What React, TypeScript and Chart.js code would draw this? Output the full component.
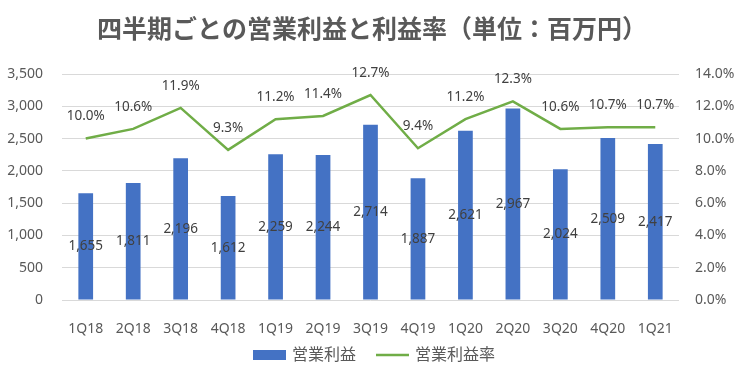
import React, { useEffect, useRef } from "react";
import { Chart, registerables } from "chart.js";

Chart.register(...registerables);

const categories = ["1Q18", "2Q18", "3Q18", "4Q18", "1Q19", "2Q19", "3Q19", "4Q19", "1Q20", "2Q20", "3Q20", "4Q20", "1Q21"];
const operatingProfit = [1655, 1811, 2196, 1612, 2259, 2244, 2714, 1887, 2621, 2967, 2024, 2509, 2417];
const profitMargin = [10.0, 10.6, 11.9, 9.3, 11.2, 11.4, 12.7, 9.4, 11.2, 12.3, 10.6, 10.7, 10.7];
const seriesNames = ["営業利益", "営業利益率"];
const titleText = "四半期ごとの営業利益と利益率（単位：百万円）";

const BLUE = "#4472C4";
const GREEN = "#70AD47";
const TEXT = "#595959";
const LABEL = "#404040";
const GRID = "#D9D9D9";
const FONT = "'Noto Sans', 'Noto Sans CJK JP', sans-serif";

export default function App() {
  const ref = useRef<HTMLCanvasElement | null>(null);

  useEffect(() => {
    document.body.style.margin = "0";
    const canvas = ref.current;
    if (!canvas) return;

    const labelPlugin = {
      id: "valueLabels",
      afterDatasetsDraw(chart: any) {
        const ctx = chart.ctx;
        ctx.save();
        ctx.font = `13.5px ${FONT}`;
        ctx.fillStyle = LABEL;
        ctx.textAlign = "center";
        ctx.textBaseline = "middle";
        const barMeta = chart.getDatasetMeta(0);
        barMeta.data.forEach((el: any, i: number) => {
          const p = el.getProps(["x", "y", "base"], true);
          ctx.fillText(operatingProfit[i].toLocaleString("en-US"), p.x, (p.y + p.base) / 2);
        });
        const lineMeta = chart.getDatasetMeta(1);
        lineMeta.data.forEach((el: any, i: number) => {
          const p = el.getProps(["x", "y"], true);
          ctx.fillText(profitMargin[i].toFixed(1) + "%", p.x, p.y - 22);
        });
        ctx.restore();
      },
    };

    const legendPlugin = {
      id: "customLegend",
      afterDraw(chart: any) {
        const ctx = chart.ctx;
        ctx.save();
        ctx.font = `16px ${FONT}`;
        ctx.textBaseline = "middle";
        ctx.textAlign = "left";
        const swW = 33;
        const gap = 6;
        const itemGap = 20;
        const w0 = ctx.measureText(seriesNames[0]).width;
        const w1 = ctx.measureText(seriesNames[1]).width;
        const total = swW + gap + w0 + itemGap + swW + gap + w1;
        let x = chart.width / 2 - total / 2 + 2;
        const y = 355;
        ctx.fillStyle = BLUE;
        ctx.fillRect(x, y - 5, swW, 10);
        x += swW + gap;
        ctx.fillStyle = TEXT;
        ctx.fillText(seriesNames[0], x, y);
        x += w0 + itemGap;
        ctx.strokeStyle = GREEN;
        ctx.lineWidth = 2.5;
        ctx.beginPath();
        ctx.moveTo(x, y);
        ctx.lineTo(x + swW, y);
        ctx.stroke();
        x += swW + gap;
        ctx.fillStyle = TEXT;
        ctx.fillText(seriesNames[1], x, y);
        ctx.restore();
      },
    };

    const chart = new Chart(canvas, {
      type: "bar",
      data: {
        labels: categories,
        datasets: [
          {
            type: "bar",
            label: seriesNames[0],
            data: operatingProfit,
            backgroundColor: BLUE,
            borderWidth: 0,
            yAxisID: "y",
            order: 1,
            categoryPercentage: 1,
            barPercentage: 0.31,
          } as any,
          {
            type: "line",
            label: seriesNames[1],
            data: profitMargin,
            borderColor: GREEN,
            backgroundColor: GREEN,
            borderWidth: 2.5,
            pointRadius: 0,
            tension: 0,
            yAxisID: "y1",
            order: 0,
          } as any,
        ],
      },
      options: {
        responsive: false,
        animation: false,
        devicePixelRatio: 1,
        layout: { padding: { left: 0, right: 0, top: 0, bottom: 40 } },
        plugins: {
          title: {
            display: true,
            text: titleText,
            color: TEXT,
            font: { family: FONT, size: 25, weight: "bold" },
            padding: { top: 16, bottom: 28 },
          },
          legend: { display: false },
          tooltip: { enabled: false },
        },
        scales: {
          x: {
            grid: { display: false },
            border: { display: false },
            ticks: { color: TEXT, font: { family: FONT, size: 14 }, padding: 13, maxRotation: 0 },
            afterFit: (s: any) => { s.height = 40; },
          },
          y: {
            position: "left",
            min: 0,
            max: 3500,
            ticks: {
              stepSize: 500,
              color: TEXT,
              font: { family: FONT, size: 14 },
              padding: 19,
              callback: (v: any) => Number(v).toLocaleString("en-US"),
            },
            grid: { color: GRID, drawTicks: false, lineWidth: 1 },
            border: { display: false },
            afterFit: (s: any) => { s.width = 62; },
          },
          y1: {
            position: "right",
            min: 0,
            max: 14,
            ticks: {
              stepSize: 2,
              color: TEXT,
              font: { family: FONT, size: 14 },
              padding: 16,
              callback: (v: any) => Number(v).toFixed(1) + "%",
            },
            grid: { drawOnChartArea: false, drawTicks: false },
            border: { display: false },
            afterFit: (s: any) => { s.width = 65; },
          },
        },
      } as any,
      plugins: [labelPlugin, legendPlugin],
    });
    return () => chart.destroy();
  }, []);

  return (
    <div style={{ width: 744, height: 380, background: "#fff" }}>
      <canvas ref={ref} width={744} height={380} />
    </div>
  );
}
